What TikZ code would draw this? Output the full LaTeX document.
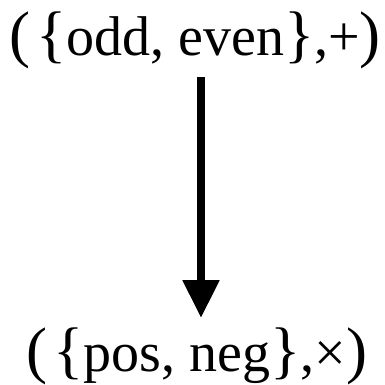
\documentclass[tikz,border=0pt]{standalone}
\usepackage{fontspec}
\setmainfont{Liberation Serif}
\usetikzlibrary{arrows.meta}
\newcommand{\bigdelim}[1]{{\fontsize{63}{63}\selectfont#1}}

\begin{document}
\begin{tikzpicture}[x=1pt,y=1pt,
		set/.style={inner sep=0pt,anchor=base,font=\fontsize{56}{60}\selectfont},
		map/.style={line width=8pt,-{Triangle[width=35pt,length=38pt]}}]
	\useasboundingbox (0,0) rectangle (385,-384);
	\node (a) [set] at (195,-55) {\bigdelim{(}\kern6pt\bigdelim{\{}odd, even\bigdelim{\}},+\bigdelim{)}};
	\node (b) [set] at (197,-371) {\bigdelim{(}\kern6pt\bigdelim{\{}pos, neg\bigdelim{\}},×\bigdelim{)}};
	\draw [map, shorten <=8.5pt, shorten >=9pt] (a.south -| 201,0) -- (b.north -| 201,0);
\end{tikzpicture}
\end{document}
